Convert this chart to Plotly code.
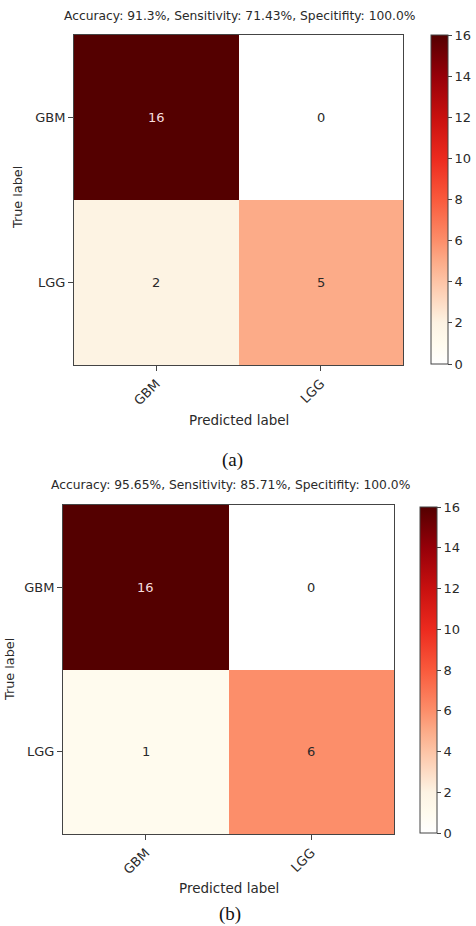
import plotly.graph_objects as go

classes = ["GBM", "LGG"]
cm_a = [[16, 0], [2, 5]]
cm_b = [[16, 0], [1, 6]]
title_a = "Accuracy: 91.3%, Sensitivity: 71.43%, Specitifity: 100.0%"
title_b = "Accuracy: 95.65%, Sensitivity: 85.71%, Specitifity: 100.0%"
cbar_ticks = [0, 2, 4, 6, 8, 10, 12, 14, 16]
zmax = 16

W, H = 476, 926
def px(x): return x / W
def py(y): return 1 - y / H

reds = [[0.0, "#ffffff"], [0.0625, "#fffbee"], [0.125, "#fdf3e3"], [0.25, "#fdc4a6"],
        [0.3125, "#fcab88"], [0.375, "#fc8e6a"], [0.5, "#f95a3c"], [0.625, "#ec2a1e"],
        [0.75, "#c8100f"], [0.875, "#960009"], [1.0, "#540000"]]

TXT = "#2a2a2a"
FONT = "DejaVu Sans"

panels = [
    dict(cm=cm_a, title=title_a, dom_x=(74, 403), dom_y=(35, 365), cb_x=431, cb_y=(35, 364),
         title_xy=(240, 16), ylab_xy=(17, 198), xlab_y=420, cap="(a)", cap_xy=(232, 460)),
    dict(cm=cm_b, title=title_b, dom_x=(63, 394), dom_y=(505, 834), cb_x=420, cb_y=(507, 833),
         title_xy=(230, 485), ylab_xy=(9, 670), xlab_y=888, cap="(b)", cap_xy=(230, 914)),
]

fig = go.Figure()
annotations = []
for i, p in enumerate(panels, start=1):
    xa = "x" if i == 1 else f"x{i}"
    ya = "y" if i == 1 else f"y{i}"
    cb_len = p["cb_y"][1] - p["cb_y"][0]
    fig.add_trace(go.Heatmap(
        z=p["cm"], x=[0, 1], y=[0, 1], xaxis=xa, yaxis=ya,
        colorscale=reds, zmin=0, zmax=zmax, xgap=0, ygap=0, hoverinfo="z",
        colorbar=dict(x=px(p["cb_x"]), xanchor="left", xpad=0, ypad=0,
                      y=py((p["cb_y"][0] + p["cb_y"][1]) / 2), yanchor="middle",
                      len=cb_len, lenmode="pixels", thickness=17, thicknessmode="pixels",
                      outlinewidth=1, outlinecolor="#444",
                      tickvals=cbar_ticks, ticks="outside", ticklen=4, tickcolor="#444",
                      tickfont=dict(family=FONT, size=13, color=TXT)),
    ))
    axkey = "xaxis" if i == 1 else f"xaxis{i}"
    aykey = "yaxis" if i == 1 else f"yaxis{i}"
    fig.update_layout(**{
        axkey: dict(domain=[px(p["dom_x"][0]), px(p["dom_x"][1])], anchor=ya,
                    range=[-0.5, 1.5], tickvals=[0, 1], ticktext=classes, tickangle=-45,
                    ticks="outside", ticklen=5, tickcolor="#444", showgrid=False, zeroline=False,
                    showline=True, mirror=True, linecolor="#444", linewidth=1, automargin=False,
                    tickfont=dict(family=FONT, size=13, color=TXT), fixedrange=True),
        aykey: dict(domain=[py(p["dom_y"][1]), py(p["dom_y"][0])], anchor=xa,
                    range=[1.5, -0.5], tickvals=[0, 1], ticktext=classes,
                    ticks="outside", ticklen=5, tickcolor="#444", showgrid=False, zeroline=False,
                    showline=True, mirror=True, linecolor="#444", linewidth=1, automargin=False,
                    tickfont=dict(family=FONT, size=13, color=TXT), fixedrange=True),
    })
    thresh = zmax / 2
    for r, row in enumerate(p["cm"]):
        for c, v in enumerate(row):
            annotations.append(dict(x=c, y=r, xref=xa, yref=ya, text=str(v), showarrow=False,
                                    font=dict(family=FONT, size=13,
                                              color="#f6dede" if v > thresh else TXT)))
    annotations.append(dict(x=px(p["title_xy"][0]), y=py(p["title_xy"][1]), xref="paper", yref="paper",
                            text=p["title"], showarrow=False, xanchor="center", yanchor="middle",
                            font=dict(family=FONT, size=12.3, color=TXT)))
    annotations.append(dict(x=px(p["ylab_xy"][0]), y=py(p["ylab_xy"][1]), xref="paper", yref="paper",
                            text="True label", textangle=-90, showarrow=False,
                            xanchor="center", yanchor="middle",
                            font=dict(family=FONT, size=12.8, color=TXT)))
    annotations.append(dict(x=px((p["dom_x"][0] + p["dom_x"][1]) / 2), y=py(p["xlab_y"]),
                            xref="paper", yref="paper", text="Predicted label", showarrow=False,
                            xanchor="center", yanchor="middle",
                            font=dict(family=FONT, size=13.5, color=TXT)))
    annotations.append(dict(x=px(p["cap_xy"][0]), y=py(p["cap_xy"][1]), xref="paper", yref="paper",
                            text=p["cap"], showarrow=False, xanchor="center", yanchor="middle",
                            font=dict(family="Liberation Serif", size=19, color="#111")))

fig.update_layout(width=W, height=H, margin=dict(l=0, r=0, t=0, b=0, autoexpand=False),
                  paper_bgcolor="white", plot_bgcolor="white", showlegend=False,
                  annotations=annotations)
fig.write_html("out.html", config={"displayModeBar": False},
               post_script="document.body.style.margin='0';document.body.style.overflow='hidden';")
